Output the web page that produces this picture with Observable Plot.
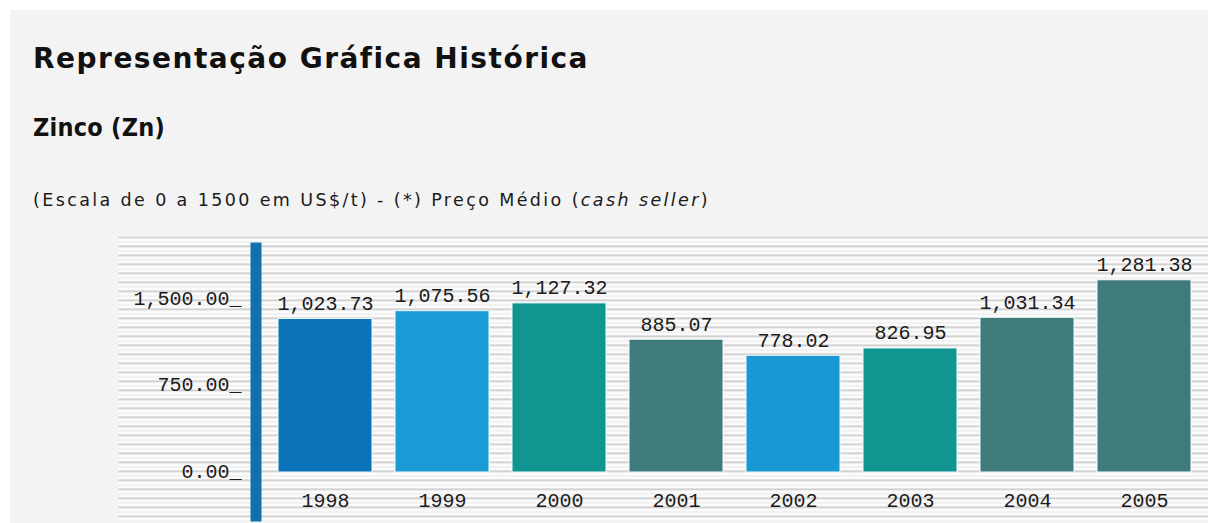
<!DOCTYPE html>
<html lang="pt">
<head>
<meta charset="utf-8">
<script src="https://cdn.jsdelivr.net/npm/d3@7"></script>
<script src="https://cdn.jsdelivr.net/npm/@observablehq/plot@0.6"></script>
<style>
  html, body { margin: 0; padding: 0; background: #ffffff; }
  #page { position: relative; width: 1208px; height: 523px; overflow: hidden; }
  #bg { position: absolute; left: 10px; top: 10px; width: 1198px; height: 513px; background: #f3f3f3; }
  .hdr { position: absolute; left: 33px; white-space: nowrap; color: #111; }
  #title { font-family: "DejaVu Sans", Verdana, sans-serif; font-weight: bold; font-size: 28px; line-height: 28px; top: 45px; }
  #sub { font-family: "DejaVu Sans Condensed", "DejaVu Sans", sans-serif; font-stretch: condensed; font-weight: bold; font-size: 25px; line-height: 25px; top: 115px; }
  #note { font-family: "DejaVu Sans", sans-serif; font-size: 17.5px; line-height: 18px; top: 191px; color: #1a1a1a; }
  #chart, #axis { position: absolute; left: 0; top: 0; }
</style>
</head>
<body>
<div id="page">
  <div id="bg"></div>
  <div class="hdr" id="title" data-w="555">Representação Gráfica Histórica</div>
  <div class="hdr" id="sub" data-w="132">Zinco (Zn)</div>
  <div class="hdr" id="note" data-w="677">(Escala de 0 a 1500 em US$/t) - (*) Preço Médio (<i>cash seller</i>)</div>
  <div id="chart"></div>
  <div id="axis"></div>
</div>
<script>
// ---- data ----
const years = ["1998", "1999", "2000", "2001", "2002", "2003", "2004", "2005"];
const prices = [1023.73, 1075.56, 1127.32, 885.07, 778.02, 826.95, 1031.34, 1281.38];
const yTicks = [0, 750, 1500];
const scaleMax = 1500;

// ---- style ----
const barColors = ["#0b73b8", "#1b9bd6", "#119590", "#407b7c", "#1a98d3", "#119590", "#407b7c", "#407b7c"];
const axisBlue = "#1470ac";
const monoFont = "'Liberation Mono', 'DejaVu Sans Mono', monospace";
const fmt = d3.format(",.2f");

const data = years.map((year, i) => ({year, price: prices[i]}));

// fit header widths with letter spacing
document.querySelectorAll(".hdr").forEach(el => {
  const target = +el.dataset.w;
  const w = el.getBoundingClientRect().width;
  const n = el.textContent.length;
  el.style.letterSpacing = ((target - w) / n).toFixed(3) + "px";
});

const chart = Plot.plot({
  width: 1208,
  height: 523,
  marginLeft: 118,
  marginRight: 0,
  marginTop: 236,
  marginBottom: 3,
  style: {background: "transparent", overflow: "visible"},
  x: {type: "band", domain: years, range: [276, 1193], paddingInner: 0.196, paddingOuter: 0, axis: null},
  y: {domain: [0, scaleMax], range: [472, 247], axis: null},
  color: {domain: years, range: barColors},
  marks: [
    Plot.frame({fill: "url(#zn-stripes)", stroke: "none"}),
    Plot.barY(data, {x: "year", y: "price", fill: "year", stroke: "#f2fbff", strokeWidth: 1}),
    Plot.text(data, {x: "year", y: "price", text: d => fmt(d.price), lineAnchor: "bottom", dy: -9,
      fontSize: 20, fontFamily: monoFont, fill: "#1a1a1a"}),
    Plot.text(data, {x: "year", y: () => 0, text: "year", lineAnchor: "bottom", dy: 34,
      fontSize: 20, fontFamily: monoFont, fill: "#1a1a1a"})
  ]
});

// striped background pattern
const defs = d3.select(chart).insert("defs", ":first-child");
const pat = defs.append("pattern").attr("id", "zn-stripes")
  .attr("patternUnits", "userSpaceOnUse").attr("x", 0).attr("y", 236)
  .attr("width", 20).attr("height", 9);
pat.append("rect").attr("width", 20).attr("height", 9).attr("fill", "#fbfbfb");
pat.append("rect").attr("y", 0).attr("width", 20).attr("height", 1).attr("fill", "#c6c6c6");
pat.append("rect").attr("y", 1).attr("width", 20).attr("height", 1).attr("fill", "#dddddd");
pat.append("rect").attr("y", 5).attr("width", 20).attr("height", 1).attr("fill", "#e9e9e9");
document.getElementById("chart").append(chart);

const axis = Plot.plot({
  width: 262,
  height: 523,
  marginLeft: 250,
  marginRight: 1,
  marginTop: 242,
  marginBottom: 2,
  style: {background: "transparent", overflow: "visible"},
  y: {domain: [0, scaleMax], range: [471, 298], axis: null},
  marks: [
    Plot.frame({fill: axisBlue, stroke: "none"}),
    Plot.text(yTicks, {y: d => d, text: d => fmt(d) + "_", frameAnchor: "left", textAnchor: "end", dx: -9,
      fontSize: 20, fontFamily: monoFont, fill: "#1a1a1a"})
  ]
});
document.getElementById("axis").append(axis);
</script>
</body>
</html>
